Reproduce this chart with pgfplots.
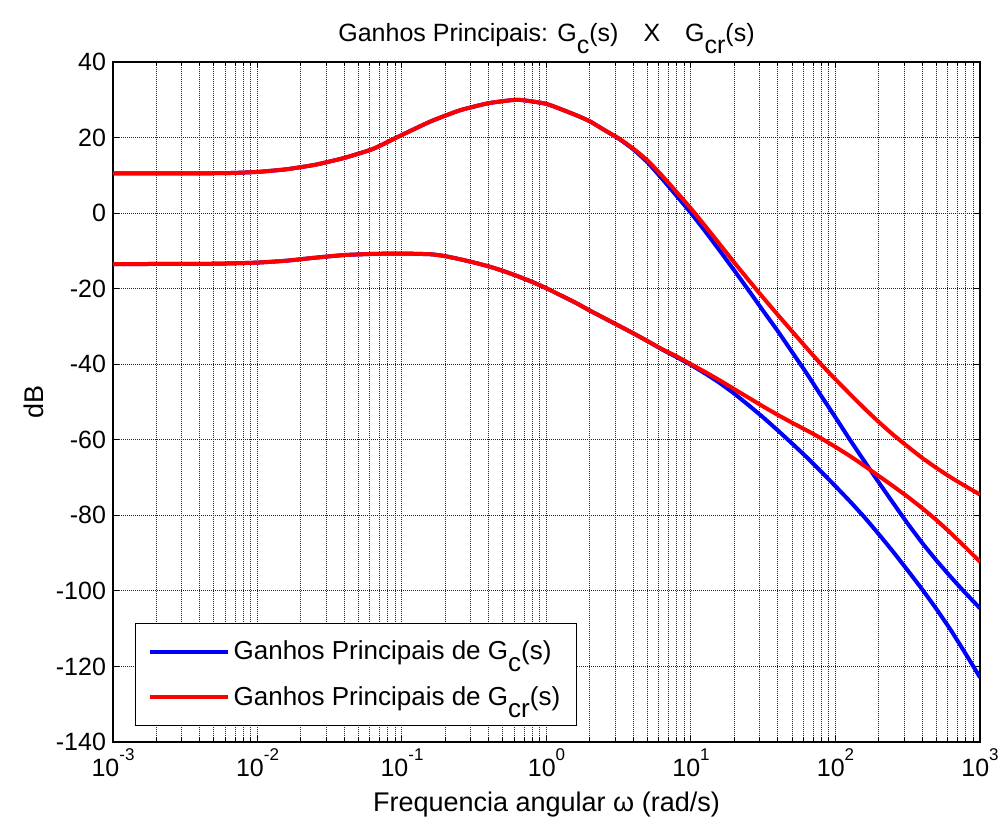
\documentclass[border=0pt]{standalone}
\usepackage{fontspec}
\setmainfont{Liberation Sans}
\usepackage{pgfplots}
\pgfplotsset{compat=1.18}
\newcommand{\sub}[1]{\raisebox{-0.45em}{#1}}
\newcommand{\tp}[1]{10\raisebox{0.62em}{\fontsize{8.5}{10}\selectfont #1}}
\pgfplotstableread{
w dB
0.001 10.5
0.003162 10.5
0.00631 10.6
0.01 10.9
0.01585 11.6
0.02512 12.8
0.03981 14.6
0.0631 17.0
0.1 20.7
0.1585 24.3
0.2512 27.2
0.3981 29.1
0.631 30.0
1.0 28.9
1.585 26.0
1.995 24.3
2.512 22.0
3.162 19.8
3.981 17.1
5.012 13.9
6.310 9.9
7.943 5.6
10.0 1.2
12.59 -3.5
15.85 -8.3
19.95 -13.1
25.12 -17.8
31.62 -22.4
39.81 -26.9
50.12 -31.3
63.10 -35.7
79.43 -40.0
100 -44.0
125.9 -47.9
158.5 -51.7
199.5 -55.3
251.2 -58.7
316.2 -61.8
398.1 -64.8
501.2 -67.5
631.0 -70.0
794.3 -72.3
1000 -74.5
}\crup
\pgfplotstableread{
w dB
0.001 10.5
0.003162 10.5
0.00631 10.6
0.01 10.9
0.01585 11.6
0.02512 12.8
0.03981 14.6
0.0631 17.0
0.1 20.7
0.1585 24.3
0.2512 27.2
0.3981 29.1
0.631 30.0
1.0 28.9
1.585 26.0
1.995 24.3
2.512 22.0
3.162 19.7
3.981 16.9
5.012 13.4
6.310 9.1
7.943 4.6
10.0 0.0
12.59 -4.9
15.85 -10.0
19.95 -15.2
25.12 -20.5
31.62 -25.9
39.81 -31.2
50.12 -36.8
63.10 -42.4
79.43 -48.3
100 -54.1
125.9 -60.0
158.5 -65.7
199.5 -71.3
251.2 -76.8
316.2 -82.2
398.1 -87.3
501.2 -92.0
631.0 -96.4
794.3 -100.6
1000 -104.6
}\cup
\pgfplotstableread{
w dB
0.001 -13.5
0.005012 -13.4
0.01 -13.1
0.01585 -12.6
0.02512 -11.8
0.03981 -11.1
0.0631 -10.8
0.1 -10.7
0.1585 -10.9
0.1995 -11.4
0.2512 -12.2
0.3162 -13.1
0.3981 -14.1
0.5012 -15.3
0.631 -16.7
0.7943 -18.2
1.0 -19.9
1.259 -21.8
1.585 -23.7
1.995 -25.8
2.512 -27.8
3.162 -29.8
3.981 -31.8
5.012 -33.9
6.310 -36.0
7.943 -37.9
10.0 -40.0
12.59 -42.1
15.85 -44.3
19.95 -46.6
25.12 -48.9
31.62 -51.2
39.81 -53.4
50.12 -55.5
63.10 -57.5
79.43 -59.6
100 -61.9
125.9 -64.3
158.5 -66.9
199.5 -69.6
251.2 -72.3
316.2 -75.1
398.1 -78.1
501.2 -81.3
631.0 -84.8
794.3 -88.5
1000 -92.3
}\crlo
\pgfplotstableread{
w dB
0.001 -13.5
0.005012 -13.4
0.01 -13.1
0.01585 -12.6
0.02512 -11.8
0.03981 -11.1
0.0631 -10.8
0.1 -10.7
0.1585 -10.9
0.1995 -11.4
0.2512 -12.2
0.3162 -13.1
0.3981 -14.1
0.5012 -15.3
0.631 -16.7
0.7943 -18.2
1.0 -19.9
1.259 -21.8
1.585 -23.7
1.995 -25.8
2.512 -27.8
3.162 -29.8
3.981 -31.8
5.012 -33.9
6.310 -36.1
7.943 -38.1
10.0 -40.2
12.59 -42.5
15.85 -45.0
19.95 -47.8
25.12 -50.9
31.62 -54.1
39.81 -57.5
50.12 -61.0
63.10 -64.6
79.43 -68.4
100 -72.3
125.9 -76.3
158.5 -80.5
199.5 -85.0
251.2 -89.7
316.2 -94.6
398.1 -99.6
501.2 -104.9
631.0 -110.5
794.3 -116.6
1000 -122.9
}\clo
\begin{document}
\begin{tikzpicture}
\begin{axis}[
  scale only axis, width=433.5pt, height=340pt,
  xmode=log, xmin=1e-3, xmax=1e3, ymin=-140, ymax=40,
  xtick={1e-3,1e-2,1e-1,1,1e1,1e2,1e3},
  xticklabels={\tp{-3},\tp{-2},\tp{-1},\tp{0},\tp{1},\tp{2},\tp{3}},
  minor xtick={0.002,0.003,0.004,0.005,0.006,0.007,0.008,0.009,
               0.02,0.03,0.04,0.05,0.06,0.07,0.08,0.09,
               0.2,0.3,0.4,0.5,0.6,0.7,0.8,0.9,
               2,3,4,5,6,7,8,9,
               20,30,40,50,60,70,80,90,
               200,300,400,500,600,700,800,900},
  ytick={-140,-120,-100,-80,-60,-40,-20,0,20,40},
  yticklabels={-140,-120,-100,-80,-60,-40,-20,0,20,40},
  tick align=inside,
  major tick length=3pt, minor tick length=2pt,
  xmajorgrids, xminorgrids, ymajorgrids,
  grid style={black!85, line width=0.5pt, dash pattern=on 0.5pt off 0.5pt},
  axis line style={line width=0.8pt},
  every tick/.style={black, line width=0.5pt},
  xticklabel style={font=\fontsize{12.5}{14}\selectfont},
  yticklabel style={font=\fontsize{12.5}{14}\selectfont},
  title={Ganhos Principais: G\sub{c}(s)\hspace{1em}X\hspace{1em}G\sub{cr}(s)},
  title style={at={(axis description cs:0.5,1.0118)}, anchor=base, font=\fontsize{12.5}{14}\selectfont},
  xlabel={Frequencia angular ω (rad/s)},
  xlabel style={at={(axis description cs:0.5,-0.1029)}, anchor=base, font=\fontsize{13.5}{15}\selectfont},
  ylabel={dB},
  ylabel style={at={(axis description cs:-0.0796,0.5)}, anchor=base, font=\fontsize{13.5}{15}\selectfont},
  legend style={at={(axis description cs:0.0254,0.0235)}, anchor=south west,
     draw=black, line width=0.6pt, fill=white, inner xsep=6pt, inner ysep=6.5pt,
     row sep=8pt, font=\fontsize{13}{15}\selectfont,
     /tikz/every odd column/.append style={column sep=0pt}},
  legend cell align=left,
  legend image code/.code={\draw[#1] (0pt,0pt) -- (39pt,0pt);},
]
\addplot[blue, line width=2pt, smooth, tension=0.3] table[x=w,y=dB] {\cup};
\addlegendentry{Ganhos Principais de G\sub{c}(s)}
\addplot[blue, line width=2pt, smooth, tension=0.3, forget plot] table[x=w,y=dB] {\clo};
\addplot[red, line width=2pt, smooth, tension=0.3] table[x=w,y=dB] {\crup};
\addlegendentry{Ganhos Principais de G\sub{cr}(s)}
\addplot[red, line width=2pt, smooth, tension=0.3, forget plot] table[x=w,y=dB] {\crlo};
\end{axis}
\pgfresetboundingbox
\path (-56.5pt,-41.5pt) rectangle (444.5pt,371pt);
\end{tikzpicture}
\end{document}
